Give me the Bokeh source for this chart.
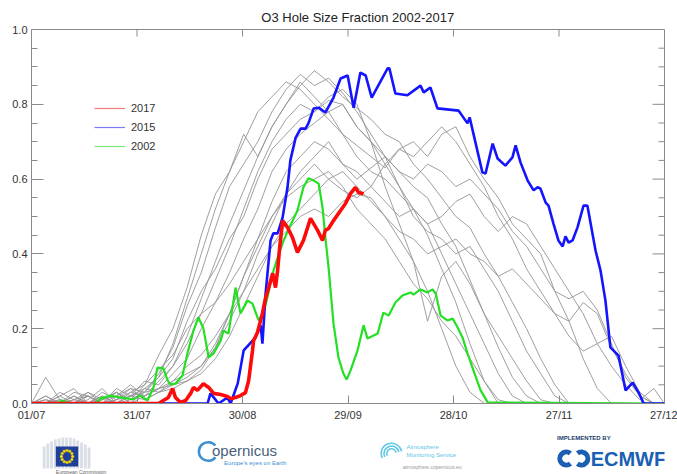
from bokeh.plotting import figure
from bokeh.models import (Range1d, FixedTicker, Legend, LegendItem, NumeralTickFormatter)
from bokeh.core.properties import value
from bokeh.layouts import column
from bokeh.embed import file_html
from bokeh.resources import INLINE
import math

TITLE = "O3 Hole Size Fraction 2002-2017"
X_TICK_LABELS = ["01/07", "31/07", "30/08", "29/09", "28/10", "27/11", "27/12"]
Y_TICKS = [0.0, 0.2, 0.4, 0.6, 0.8, 1.0]
Y_MINOR = [0.05, 0.1, 0.15, 0.25, 0.3, 0.35, 0.45, 0.5, 0.55, 0.65, 0.7, 0.75, 0.85, 0.9, 0.95]
N_DAYS = 179  # 01/07 .. 27/12

# ---- highlighted years (day since 01/07, fraction) ----
days_2017 = [0, 35.9, 37.3, 38.7, 39.9, 40.7, 42.1, 43.6, 45.0, 45.8, 46.9, 48.6, 50.1, 51.5, 53.5,
             55.4, 56.3, 57.7, 59.1, 60.5, 61.4, 62.5, 62.8, 63.9, 65.3, 66.2, 67.0, 68.2, 69.0,
             69.6, 70.1, 71.0, 72.4, 73.8, 75.2, 76.9, 78.9, 80.9, 82.3, 83.1, 84.0, 85.4, 87.4,
             88.8, 90.2, 91.6, 92.5, 93.9]
vals_2017 = [0, 0, 0.008, 0.016, 0.040, 0.016, 0.003, 0.008, 0.027, 0.043, 0.035, 0.053, 0.043,
             0.027, 0.024, 0.019, 0.013, 0.016, 0.021, 0.029, 0.061, 0.142, 0.168, 0.190, 0.241,
             0.283, 0.307, 0.348, 0.310, 0.356, 0.409, 0.489, 0.471, 0.444, 0.404, 0.436, 0.495,
             0.463, 0.436, 0.463, 0.468, 0.489, 0.516, 0.535, 0.561, 0.578, 0.564, 0.561]

days_2015 = [0, 49.8, 50.6, 52.9, 55.4, 56.3, 58.3, 60.0, 63.3, 64.8, 65.3, 66.2, 67.6, 68.4, 69.6,
             71.0, 72.4, 73.2, 74.7, 76.1, 77.5, 78.3, 79.8, 81.2, 83.1, 85.4, 87.4, 89.4, 91.1,
             93.0, 94.5, 96.2, 100.7, 101.2, 102.9, 106.3, 110.0, 110.9, 112.8, 114.8, 120.8,
             123.3, 123.9, 127.5, 128.4, 130.4, 131.8, 134.0, 136.0, 136.9, 138.3, 140.3, 142.0,
             143.1, 143.9, 145.4, 146.2, 147.6, 149.0, 150.2, 151.0, 151.9, 153.0, 154.4, 156.1,
             157.2, 159.5, 160.9, 162.3, 163.7, 166.0, 168.0, 170.0, 171.7, 173.1, 179]
vals_2015 = [0, 0, 0.027, 0, 0.016, 0, 0.053, 0.142, 0.176, 0.209, 0.160, 0.294, 0.436, 0.455,
             0.455, 0.497, 0.578, 0.650, 0.711, 0.735, 0.735, 0.749, 0.789, 0.791, 0.778, 0.818,
             0.869, 0.877, 0.791, 0.885, 0.877, 0.818, 0.896, 0.896, 0.829, 0.824, 0.850, 0.832,
             0.845, 0.789, 0.783, 0.749, 0.765, 0.618, 0.615, 0.695, 0.655, 0.636, 0.658, 0.690,
             0.644, 0.596, 0.570, 0.578, 0.575, 0.537, 0.529, 0.481, 0.436, 0.420, 0.447, 0.430,
             0.436, 0.471, 0.529, 0.529, 0.409, 0.356, 0.275, 0.150, 0.128, 0.035, 0.056, 0.029,
             0, 0]

days_2002 = [0, 7.1, 8.8, 10.5, 18.1, 19.5, 22.3, 25.2, 28.8, 30.8, 32.8, 34.5, 35.6, 37.3, 38.5,
             39.3, 40.7, 42.7, 44.1, 45.8, 47.2, 48.6, 50.1, 51.5, 53.5, 54.3, 55.7, 57.7, 59.1,
             61.1, 62.5, 64.2, 65.6, 66.7, 68.2, 69.6, 71.3, 73.2, 75.2, 76.9, 78.3, 79.8, 81.2,
             82.3, 83.1, 84.0, 85.4, 86.8, 88.2, 89.1, 90.2, 92.2, 93.9, 95.0, 97.9, 99.5, 101.0,
             102.9, 104.9, 107.2, 108.0, 110.0, 112.0, 113.4, 114.3, 115.7, 117.6, 119.1, 120.5,
             121.9, 123.3, 125.0, 127.0, 129.0, 179]
vals_2002 = [0, 0, 0.008, 0, 0, 0.013, 0.021, 0.016, 0.011, 0.021, 0.008, 0.043, 0.096, 0.094,
             0.061, 0.051, 0.053, 0.075, 0.134, 0.195, 0.230, 0.201, 0.123, 0.134, 0.168, 0.195,
             0.187, 0.310, 0.241, 0.275, 0.267, 0.222, 0.243, 0.283, 0.348, 0.390, 0.436, 0.476,
             0.516, 0.578, 0.602, 0.596, 0.588, 0.524, 0.444, 0.364, 0.214, 0.123, 0.080, 0.064,
             0.088, 0.142, 0.209, 0.174, 0.187, 0.243, 0.235, 0.270, 0.289, 0.297, 0.291, 0.305,
             0.297, 0.305, 0.294, 0.235, 0.222, 0.227, 0.203, 0.176, 0.134, 0.088, 0.035, 0.003, 0]

# ---- other years 2003-2016 (grey), sampled every 4 days ----
other_days = [0, 4, 8, 12, 16, 20, 24, 28, 32, 36, 40, 44, 48, 52, 56, 60, 64, 68, 72, 76, 80, 84,
              88, 92, 96, 100, 104, 108, 112, 116, 120, 124, 128, 132, 136, 140, 144, 148, 152,
              156, 160, 164, 168, 172, 176, 179]
other_a = [0.00, 0.07, 0.01, 0.00, 0.02, 0.00, 0.03, 0.01, 0.05, 0.13,
           0.20, 0.31, 0.45, 0.56, 0.62, 0.72, 0.66, 0.74, 0.80, 0.86,
           0.82, 0.78, 0.80, 0.74, 0.70, 0.66, 0.62, 0.58, 0.55, 0.48,
           0.42, 0.33, 0.24, 0.15, 0.07, 0.02, 0.00, 0.00, 0.00, 0.00,
           0.00, 0.00, 0.00, 0.00, 0.00, 0.00]
other_b = [0.00, 0.00, 0.02, 0.04, 0.00, 0.03, 0.01, 0.04, 0.03, 0.08,
           0.15, 0.26, 0.35, 0.47, 0.58, 0.64, 0.70, 0.78, 0.84, 0.88,
           0.85, 0.87, 0.83, 0.78, 0.72, 0.66, 0.58, 0.52, 0.45, 0.36,
           0.27, 0.16, 0.06, 0.00, 0.00, 0.00, 0.00, 0.00, 0.00, 0.00,
           0.00, 0.00, 0.00, 0.00, 0.00, 0.00]
other_c = [0.00, 0.01, 0.00, 0.03, 0.02, 0.00, 0.04, 0.02, 0.06, 0.05,
           0.10, 0.18, 0.28, 0.38, 0.48, 0.57, 0.66, 0.74, 0.80, 0.85,
           0.89, 0.86, 0.82, 0.79, 0.76, 0.72, 0.70, 0.64, 0.60, 0.55,
           0.50, 0.47, 0.40, 0.34, 0.27, 0.20, 0.12, 0.05, 0.00, 0.00,
           0.00, 0.00, 0.00, 0.00, 0.00, 0.00]
other_d = [0.00, 0.00, 0.01, 0.00, 0.03, 0.01, 0.02, 0.05, 0.02, 0.04,
           0.08, 0.12, 0.20, 0.27, 0.35, 0.44, 0.52, 0.62, 0.68, 0.72,
           0.75, 0.78, 0.72, 0.69, 0.66, 0.63, 0.68, 0.70, 0.66, 0.72,
           0.74, 0.66, 0.60, 0.55, 0.48, 0.44, 0.40, 0.30, 0.22, 0.12,
           0.04, 0.00, 0.00, 0.00, 0.00, 0.00]
other_e = [0.00, 0.00, 0.00, 0.02, 0.00, 0.01, 0.03, 0.00, 0.04, 0.03,
           0.06, 0.08, 0.10, 0.15, 0.22, 0.30, 0.40, 0.48, 0.56, 0.62,
           0.66, 0.70, 0.64, 0.60, 0.63, 0.66, 0.62, 0.60, 0.64, 0.62,
           0.58, 0.60, 0.56, 0.52, 0.46, 0.42, 0.36, 0.30, 0.28, 0.30,
           0.25, 0.16, 0.07, 0.02, 0.00, 0.00]
other_f = [0.00, 0.02, 0.00, 0.00, 0.01, 0.04, 0.00, 0.02, 0.03, 0.07,
           0.12, 0.22, 0.30, 0.36, 0.44, 0.50, 0.60, 0.68, 0.72, 0.76,
           0.78, 0.81, 0.80, 0.74, 0.70, 0.64, 0.58, 0.50, 0.46, 0.44,
           0.40, 0.42, 0.36, 0.30, 0.22, 0.14, 0.08, 0.02, 0.00, 0.00,
           0.00, 0.00, 0.00, 0.00, 0.00, 0.00]
other_g = [0.00, 0.00, 0.03, 0.01, 0.00, 0.02, 0.00, 0.03, 0.05, 0.09,
           0.13, 0.20, 0.24, 0.27, 0.32, 0.38, 0.44, 0.50, 0.55, 0.58,
           0.60, 0.62, 0.58, 0.52, 0.48, 0.44, 0.38, 0.32, 0.28, 0.22,
           0.18, 0.12, 0.06, 0.01, 0.00, 0.00, 0.00, 0.00, 0.00, 0.00,
           0.00, 0.00, 0.00, 0.00, 0.00, 0.00]
other_h = [0.00, 0.01, 0.00, 0.02, 0.00, 0.00, 0.02, 0.04, 0.01, 0.03,
           0.05, 0.06, 0.09, 0.15, 0.24, 0.34, 0.44, 0.54, 0.62, 0.66,
           0.70, 0.68, 0.64, 0.62, 0.58, 0.64, 0.68, 0.66, 0.70, 0.74,
           0.70, 0.64, 0.58, 0.50, 0.44, 0.36, 0.30, 0.24, 0.22, 0.27,
           0.24, 0.15, 0.08, 0.02, 0.00, 0.00]
other_i = [0.00, 0.00, 0.00, 0.01, 0.03, 0.00, 0.01, 0.03, 0.02, 0.06,
           0.10, 0.16, 0.24, 0.33, 0.42, 0.52, 0.62, 0.70, 0.76, 0.80,
           0.78, 0.82, 0.84, 0.80, 0.70, 0.58, 0.48, 0.38, 0.30, 0.20,
           0.10, 0.03, 0.00, 0.00, 0.00, 0.00, 0.00, 0.00, 0.00, 0.00,
           0.00, 0.00, 0.00, 0.00, 0.00, 0.00]
other_j = [0.00, 0.00, 0.01, 0.00, 0.00, 0.02, 0.00, 0.01, 0.03, 0.04,
           0.05, 0.07, 0.10, 0.16, 0.24, 0.34, 0.42, 0.50, 0.56, 0.60,
           0.64, 0.60, 0.57, 0.55, 0.58, 0.54, 0.50, 0.52, 0.48, 0.50,
           0.54, 0.56, 0.50, 0.46, 0.50, 0.48, 0.42, 0.36, 0.30, 0.24,
           0.16, 0.10, 0.05, 0.01, 0.04, 0.00]
other_k = [0.00, 0.02, 0.00, 0.00, 0.00, 0.01, 0.03, 0.00, 0.02, 0.04,
           0.06, 0.10, 0.13, 0.18, 0.24, 0.30, 0.36, 0.42, 0.46, 0.50,
           0.52, 0.50, 0.54, 0.56, 0.55, 0.50, 0.44, 0.38, 0.22, 0.34,
           0.38, 0.32, 0.24, 0.18, 0.12, 0.06, 0.01, 0.00, 0.00, 0.00,
           0.00, 0.00, 0.00, 0.00, 0.00, 0.00]
other_l = [0.00, 0.00, 0.02, 0.00, 0.02, 0.00, 0.01, 0.02, 0.04, 0.07,
           0.16, 0.28, 0.40, 0.52, 0.62, 0.70, 0.78, 0.82, 0.86, 0.84,
           0.80, 0.76, 0.72, 0.66, 0.62, 0.60, 0.56, 0.52, 0.48, 0.40,
           0.32, 0.24, 0.16, 0.08, 0.02, 0.00, 0.00, 0.00, 0.00, 0.00,
           0.00, 0.00, 0.00, 0.00, 0.00, 0.00]
other_m = [0.00, 0.00, 0.00, 0.01, 0.02, 0.00, 0.00, 0.02, 0.01, 0.03,
           0.04, 0.06, 0.08, 0.12, 0.18, 0.26, 0.34, 0.42, 0.48, 0.52,
           0.56, 0.60, 0.62, 0.58, 0.54, 0.50, 0.46, 0.44, 0.40, 0.42,
           0.44, 0.40, 0.38, 0.34, 0.36, 0.32, 0.28, 0.24, 0.18, 0.14,
           0.16, 0.18, 0.10, 0.03, 0.00, 0.00]
other_years = [other_a, other_b, other_c, other_d, other_e, other_f, other_g,
               other_h, other_i, other_j, other_k, other_l, other_m]

FONT = "Liberation Sans"
AXIS_COL = "#8a8a8a"
TXT_COL = "#333333"
W = 677


def strip(height):
    f = figure(width=W, height=height, x_range=Range1d(0, W), y_range=Range1d(0, height),
               output_backend="svg", toolbar_location=None, min_border=0,
               min_border_left=0, min_border_right=0, min_border_top=0, min_border_bottom=0)
    f.axis.visible = False
    f.xgrid.visible = False
    f.ygrid.visible = False
    f.outline_line_color = None
    return f


def txt(f, x, y, s, size, color, bold=False, align="left"):
    f.text(x=[x], y=[y], text=[s], text_font=value(FONT), text_font_size=value(size),
           text_color=color, text_baseline="middle", text_align=align,
           text_font_style="bold" if bold else "normal")


# ---- title strip ----
t = strip(24)
txt(t, 349, 7, TITLE, "13px", "#222222", align="center")

# ---- main plot ----
FRAME_W, FRAME_H = 633, 374
p = figure(width=W, height=408, x_range=Range1d(0, N_DAYS), y_range=Range1d(0, 1.0),
           output_backend="svg", toolbar_location=None,
           min_border_left=31, min_border_right=13, min_border_top=5, min_border_bottom=29)
p.xgrid.visible = False
p.ygrid.visible = False
p.outline_line_color = AXIS_COL
p.background_fill_color = "white"
p.border_fill_color = "white"

x_tick_pos = [i * N_DAYS / (len(X_TICK_LABELS) - 1) for i in range(len(X_TICK_LABELS))]


def style_axis(ax, ticker, tick_len, minor_len):
    ax.ticker = ticker
    ax.axis_line_color = AXIS_COL
    ax.major_tick_line_color = AXIS_COL
    ax.minor_tick_line_color = AXIS_COL
    ax.major_tick_in = tick_len
    ax.major_tick_out = 0
    ax.minor_tick_in = minor_len
    ax.minor_tick_out = 0
    ax.major_label_text_font = FONT
    ax.major_label_text_font_size = "11px"
    ax.major_label_text_color = TXT_COL


xa = p.xaxis[0]
style_axis(xa, FixedTicker(ticks=x_tick_pos, minor_ticks=[]), 8, 0)
xa.major_label_overrides = {pos: lab for pos, lab in zip(x_tick_pos, X_TICK_LABELS)}
xa.major_label_standoff = 5
ya = p.yaxis[0]
style_axis(ya, FixedTicker(ticks=Y_TICKS, minor_ticks=Y_MINOR), 12, 6)
ya.formatter = NumeralTickFormatter(format="0.0")
ya.major_label_standoff = 4

# mirrored ticks on the top and right frame edges
dy_top = 7 / FRAME_H
p.segment(x0=x_tick_pos[1:-1], y0=[1.0] * 5, x1=x_tick_pos[1:-1], y1=[1.0 - dy_top] * 5,
          line_color=AXIS_COL, line_width=1)
dx_major = 12 * N_DAYS / FRAME_W
dx_minor = 6 * N_DAYS / FRAME_W
p.segment(x0=[N_DAYS] * len(Y_TICKS), y0=Y_TICKS, x1=[N_DAYS - dx_major] * len(Y_TICKS),
          y1=Y_TICKS, line_color=AXIS_COL, line_width=1)
p.segment(x0=[N_DAYS] * len(Y_MINOR), y0=Y_MINOR, x1=[N_DAYS - dx_minor] * len(Y_MINOR),
          y1=Y_MINOR, line_color=AXIS_COL, line_width=1)

for vals in other_years:
    p.line(other_days, vals, line_color="#959595", line_width=1, line_alpha=0.9)

p.line(days_2002, vals_2002, line_color="#22e022", line_width=2.2)
p.line(days_2015, vals_2015, line_color="#1414ff", line_width=2.6)
p.line(days_2017, vals_2017, line_color="#ff0a0a", line_width=3.6)

# legend with thin pale sample lines (dummy renderers outside the visible range)
leg_r17 = p.line([-10, -5], [-1, -1], line_color="#f47a7a", line_width=1.2)
leg_r15 = p.line([-10, -5], [-1, -1], line_color="#7a7af4", line_width=1.2)
leg_r02 = p.line([-10, -5], [-1, -1], line_color="#7ae87a", line_width=1.2)
legend = Legend(items=[LegendItem(label="2017", renderers=[leg_r17]),
                       LegendItem(label="2015", renderers=[leg_r15]),
                       LegendItem(label="2002", renderers=[leg_r02])],
                location=(63, 248), glyph_width=31, glyph_height=18, label_height=18,
                label_standoff=6, spacing=1, padding=0, margin=0,
                border_line_alpha=0, background_fill_alpha=0,
                label_text_font=FONT, label_text_font_size="11px", label_text_color=TXT_COL)
p.add_layout(legend)

# ---- logo strip (page y 432..474) ----
q = strip(42)

# European Commission building + flag
bl = [12, 16, 20, 24, 28, 32, 36, 40, 44, 48, 52, 56, 60]
q.quad(left=bl, right=[b + 3 for b in bl], bottom=[6] * len(bl),
       top=[28, 31, 33, 35, 36, 37, 37, 37, 36, 34, 32, 30, 27],
       fill_color="#d9dde6", line_color=None)
q.quad(left=[26], right=[50], bottom=[8], top=[28], fill_color="#1f3f99", line_color=None)
sx = [38 + 6 * math.cos(k * math.pi / 6) for k in range(12)]
sy = [18 + 6 * math.sin(k * math.pi / 6) for k in range(12)]
q.scatter(sx, sy, marker="asterisk", size=3, line_color="#ffdd00")
txt(q, 26, 3, "European Commission", "5px", "#666666")

# Copernicus
q.arc(x=[189], y=[23], radius=10, start_angle=0.7, end_angle=5.6, line_color="#3d8fd0",
      line_width=2.5)
txt(q, 193, 24, "opernicus", "15px", "#4a5f78")
txt(q, 206, 12, "Europe's eyes on Earth", "6px", "#3d8fd0")

# Atmosphere Monitoring Service
for r in [11, 8, 5]:
    q.arc(x=[385], y=[21], radius=r, start_angle=0.2, end_angle=3.6, line_color="#5cc6e4",
          line_width=1.5)
txt(q, 401, 28, "Atmosphere", "6px", "#5cc6e4")
txt(q, 401, 20, "Monitoring Service", "6px", "#5cc6e4")
txt(q, 397, 8, "atmosphere.copernicus.eu", "5px", "#999999")

# ECMWF
txt(q, 562, 37, "IMPLEMENTED BY", "6px", "#1d3e6e", bold=True)
q.arc(x=[572, 588], y=[16, 16], radius=7, start_angle=[0.9, -2.2], end_angle=[5.4, 2.2],
      line_color="#1a5fb4", line_width=5)
txt(q, 598, 16, "ECMWF", "20px", "#1a5fb4", bold=True)

layout = column(t, p, q, spacing=0)
open("out.html", "w").write(file_html(layout, INLINE))
